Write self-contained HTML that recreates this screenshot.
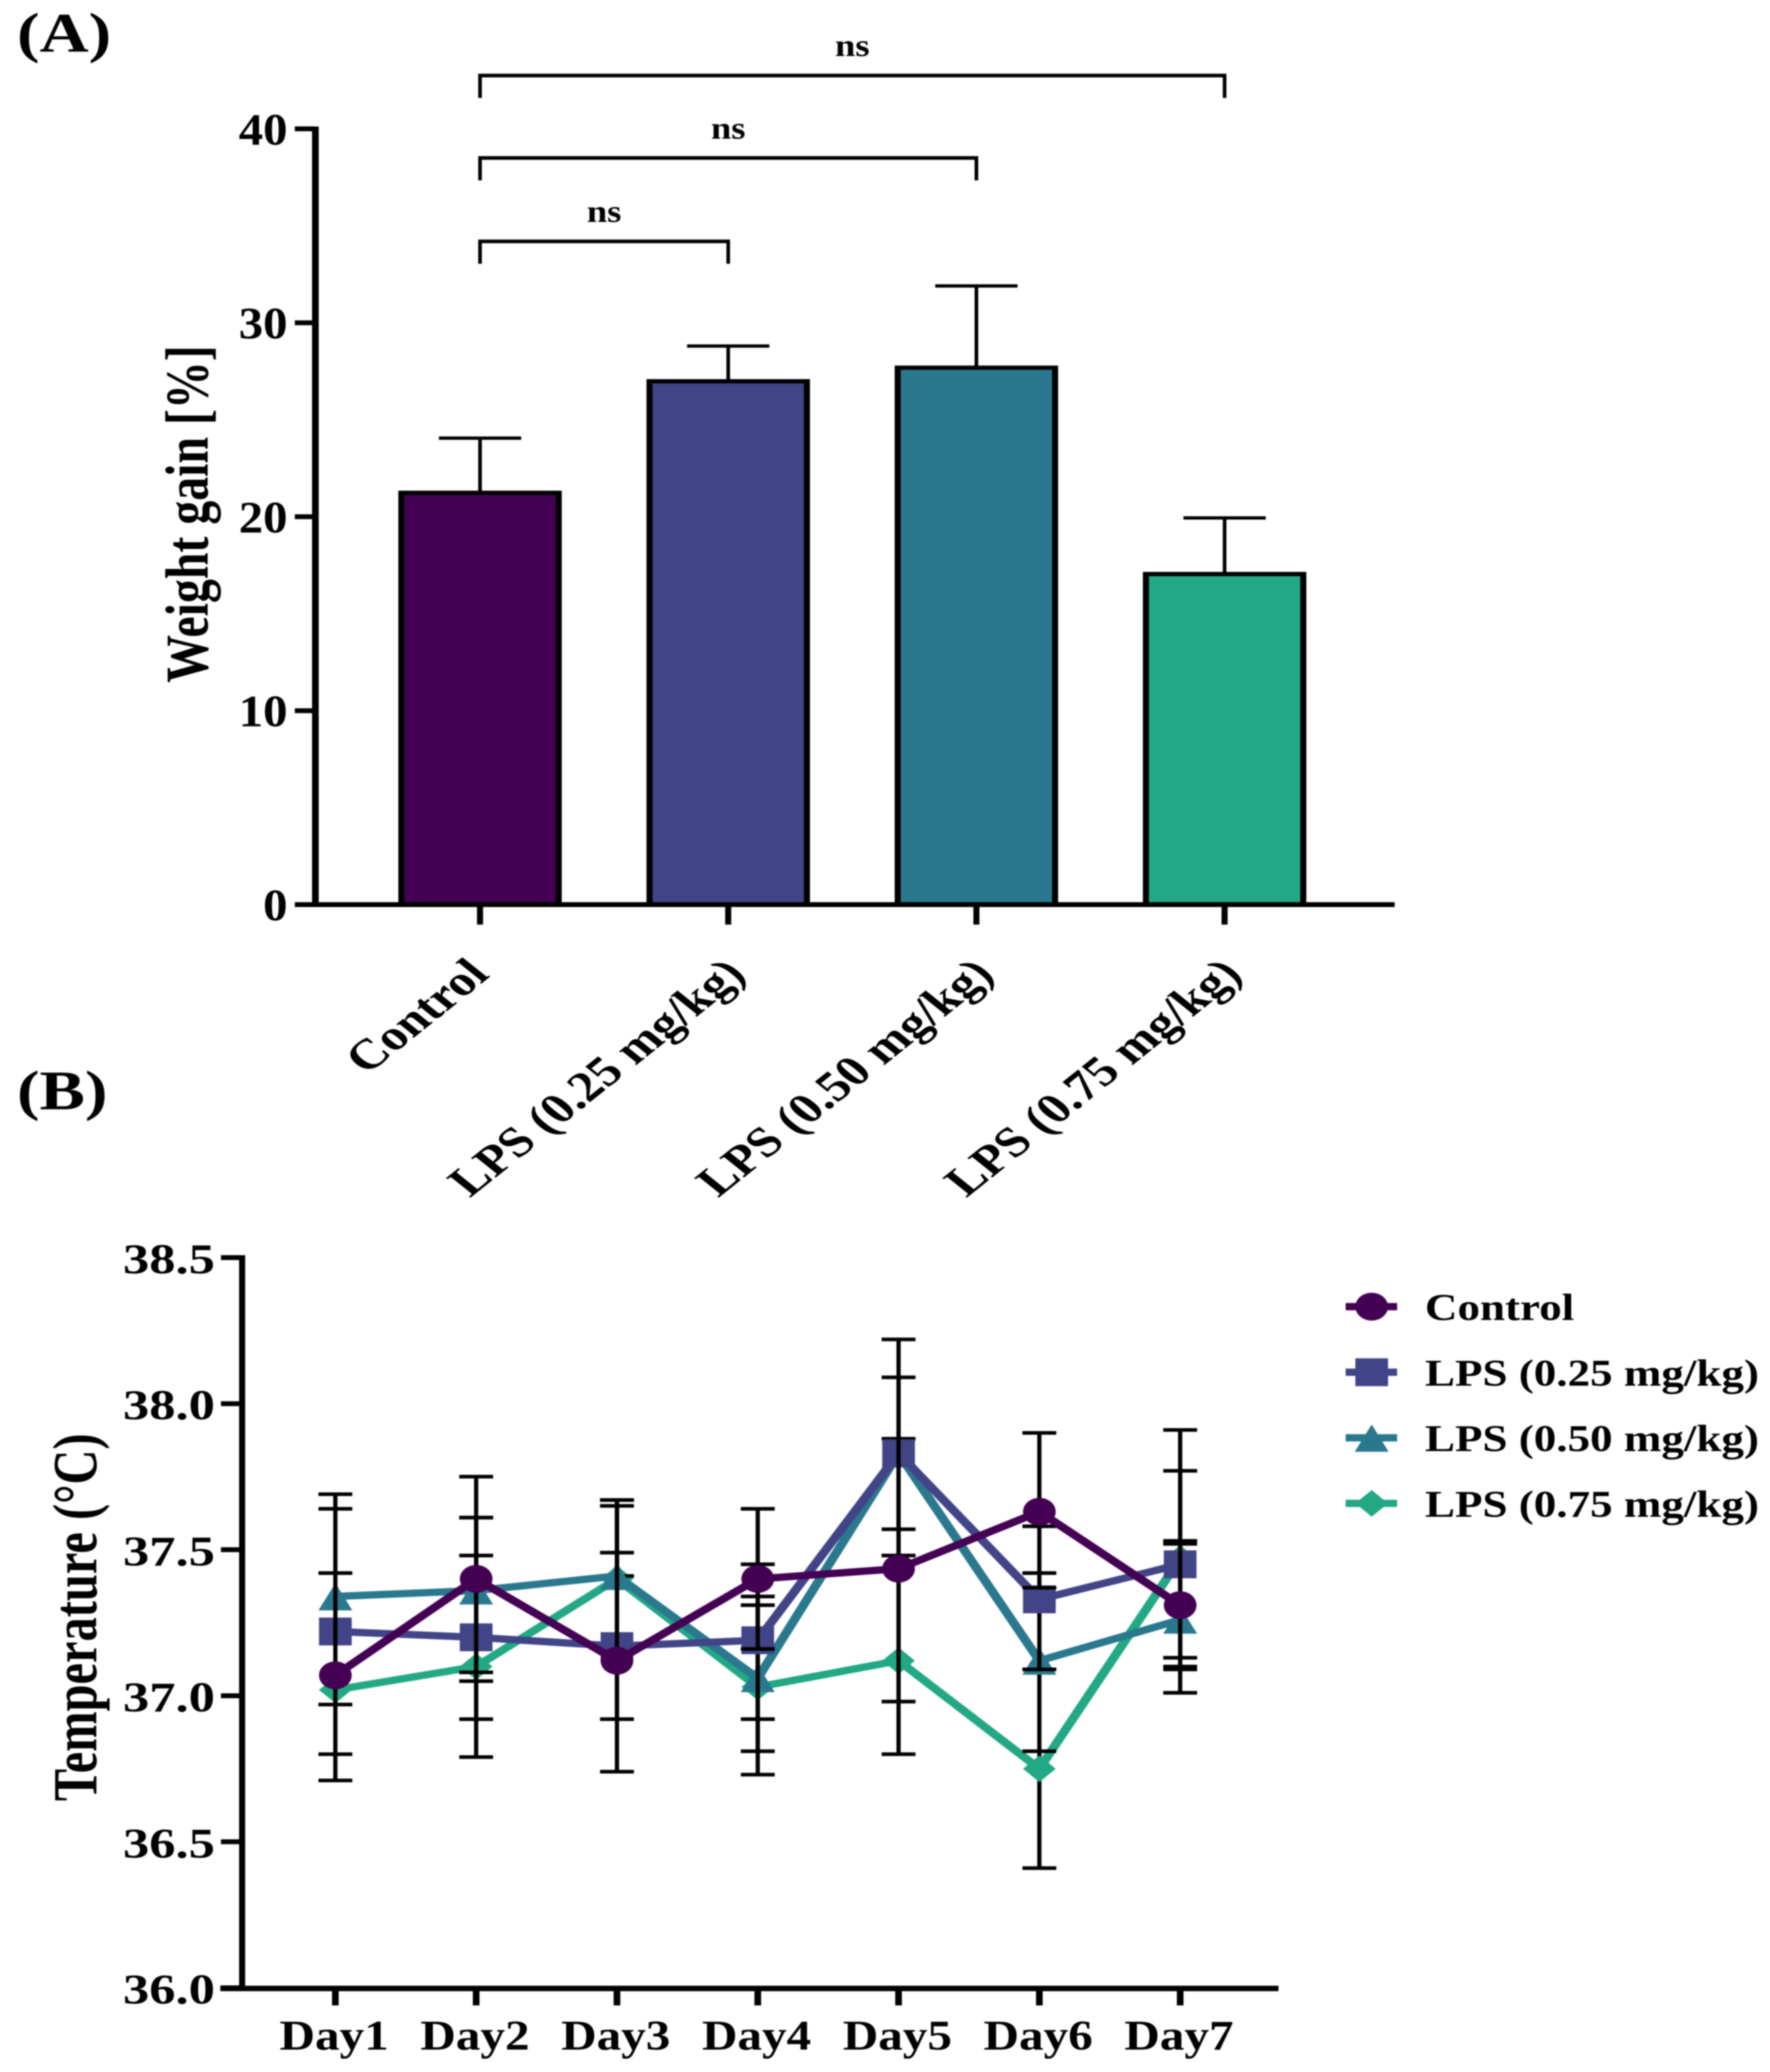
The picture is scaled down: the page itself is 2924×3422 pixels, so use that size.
<!DOCTYPE html>
<html lang="en">
<head>
<meta charset="utf-8">
<title>Weight gain and temperature charts</title>
<style>
html,body{margin:0;padding:0;background:#fff}
svg{display:block;filter:blur(1px)}
text{font-family:"Liberation Serif",serif;font-weight:bold;fill:#000}
</style>
</head>
<body>
<svg id="figure" xmlns="http://www.w3.org/2000/svg" width="2924" height="3422" viewBox="0 0 2924 3422">
  <rect x="0" y="0" width="2924" height="3422" fill="#fff"/>
  <text font-size="92" transform="translate(28,85) scale(1.22,1)">(A)</text>
  <text font-size="92" transform="translate(28,1832) scale(1.22,1)">(B)</text>
  <text font-size="79" text-anchor="middle" transform="translate(343,849) scale(1.28,1) rotate(-90)">Weight gain [%]</text>
  <text font-size="80" text-anchor="middle" transform="translate(159,2671) scale(1.3,1) rotate(-90)">Temperature (°C)</text>
  <g id="panel-a"></g>
  <g id="panel-b"></g>
  <g id="legend"></g>
</svg>
<script>
// ---- Panel A data ----
const barCategories = ["Control", "LPS (0.25 mg/kg)", "LPS (0.50 mg/kg)", "LPS (0.75 mg/kg)"];
const barValues = [21.25, 27.0, 27.7, 17.06];
const barErrors = [2.8, 1.8, 4.2, 2.88];
const barColors = ["#440154", "#414487", "#2a788e", "#22a884"];
const barTicks = [0, 10, 20, 30, 40];
const comparisonEnds = [1, 2, 3];
const comparisonLevels = [34.2, 38.5, 42.75];
const comparisonLabels = ["ns", "ns", "ns"];

// ---- Panel B data ----
const dayLabels = ["Day1", "Day2", "Day3", "Day4", "Day5", "Day6", "Day7"];
const tempTicks = ["36.0", "36.5", "37.0", "37.5", "38.0", "38.5"];
const seriesNames = ["Control", "LPS (0.25 mg/kg)", "LPS (0.50 mg/kg)", "LPS (0.75 mg/kg)"];
const seriesColors = ["#440154", "#414487", "#2a788e", "#22a884"];
const seriesMarkers = ["circle", "square", "triangle", "diamond"];

const controlMean = [37.07, 37.40, 37.12, 37.40, 37.435, 37.63, 37.31];
const controlHigh = [37.42, 37.75, 37.49, 37.64, 38.09, 37.90, 37.53];
const controlLow  = [36.71, 37.05, 36.74, 37.16, 36.80, 37.37, 37.10];

const lps25Mean = [37.22, 37.20, 37.17, 37.19, 37.83, 37.33, 37.45];
const lps25High = [37.64, 37.61, 37.65, 37.45, 38.22, 37.58, 37.91];
const lps25Low  = [36.80, 36.79, 36.92, 36.92, 37.48, 37.09, 37.01];

const lps50Mean = [37.34, 37.36, 37.41, 37.06, 37.83, 37.12, 37.26];
const lps50High = [37.69, 37.61, 37.67, 37.34, 37.88, 37.42, 37.52];
const lps50Low  = [36.97, 37.08, 37.41, 36.81, 37.57, 36.81, 37.13];

const lps75Mean = [37.02, 37.10, 37.40, 37.03, 37.12, 36.75, 37.47];
const lps75High = [37.42, 37.48, 37.67, 37.31, 37.48, 37.09, 37.77];
const lps75Low  = [36.71, 36.92, 37.41, 36.73, 36.98, 36.41, 37.09];

const seriesMeans = [controlMean, lps25Mean, lps50Mean, lps75Mean];
const seriesHighs = [controlHigh, lps25High, lps50High, lps75High];
const seriesLows = [controlLow, lps25Low, lps50Low, lps75Low];

// ---- Axis functions ----
const xA = i => 793 + i * 410;
const yA = v => 1494 - v * 32.03;
const xB = i => 554 + i * 232.6;
const yB = v => 3283 - (v - 36) * 482.4;
const STRETCH = 1.3;

const SVGNS = "http://www.w3.org/2000/svg";
function make(parent, tag, attrs) {
  const e = document.createElementNS(SVGNS, tag);
  for (const k in attrs) e.setAttribute(k, attrs[k]);
  parent.appendChild(e);
  return e;
}
function slug(s) {
  return s.toLowerCase().replace(/[^a-z0-9]+/g, "-").replace(/^-|-$/g, "");
}
function hLine(parent, x1, x2, y, w) {
  return make(parent, "line", { x1: x1, x2: x2, y1: y, y2: y, stroke: "#000", "stroke-width": w });
}
function vLine(parent, x, y1, y2, w) {
  return make(parent, "line", { x1: x, x2: x, y1: y1, y2: y2, stroke: "#000", "stroke-width": w });
}
function label(parent, str, x, y, size, anchor, sx, rot) {
  const t = make(parent, "text", {
    "font-size": size,
    "text-anchor": anchor,
    transform: "translate(" + x + "," + y + ") scale(" + sx + ",1)" + (rot ? " rotate(" + rot + ")" : "")
  });
  t.textContent = str;
  return t;
}
function drawMarker(parent, type, cx, cy, color) {
  let m;
  if (type === "circle") {
    m = make(parent, "ellipse", { cx: cx, cy: cy, rx: 27, ry: 23, fill: color });
  } else if (type === "square") {
    m = make(parent, "rect", { x: cx - 27, y: cy - 23, width: 54, height: 46, fill: color });
  } else if (type === "triangle") {
    m = make(parent, "polygon", { points: (cx) + "," + (cy - 22) + " " + (cx + 28) + "," + (cy + 23) + " " + (cx - 28) + "," + (cy + 23), fill: color });
  } else {
    m = make(parent, "polygon", { points: (cx) + "," + (cy - 22) + " " + (cx + 27) + "," + cy + " " + (cx) + "," + (cy + 22) + " " + (cx - 27) + "," + cy, fill: color });
  }
  return m;
}

// ---- Panel A ----
const pa = document.getElementById("panel-a");
barCategories.forEach(function (cat, i) {
  const cx = xA(i), top = yA(barValues[i]), errTop = yA(barValues[i] + barErrors[i]);
  const stem = vLine(pa, cx, errTop, top, 6);
  
  
  const cap = hLine(pa, cx - 68, cx + 68, errTop, 5.5);
  
  
  const outline = make(pa, "rect", { x: cx - 135, y: top - 3, width: 270, height: 1494 - top + 3, fill: "#000" });
  
  
  const bar = make(pa, "rect", { x: cx - 125, y: top + 4, width: 250, height: 1494 - top - 4, fill: barColors[i] });
  
  
});
const axisYA = vLine(pa, 521, 209, 1498, 11);


const axisXA = hLine(pa, 487, 2304, 1494, 8);


barTicks.forEach(function (v) {
  const tick = hLine(pa, 487, 520, yA(v), 8);
  
  
  const tl = label(pa, String(v), 475, yA(v) + 26, 74, "end", 1.09);
  
  
});
barCategories.forEach(function (cat, i) {
  const tick = vLine(pa, xA(i), 1494, 1527, 10);
  
  
  const endOffset = cat.length > 8 ? 32 : 18;
  const tl = label(pa, cat, xA(i) + endOffset, 1612, 70, "end", 1.25, -45);
  
  
});
comparisonEnds.forEach(function (endIdx, i) {
  const y = yA(comparisonLevels[i]);
  const path = make(pa, "path", {
    d: "M" + xA(0) + " " + (y + 37) + "V" + y + "H" + xA(endIdx) + "V" + (y + 37),
    fill: "none", stroke: "#000", "stroke-width": 6
  });
  
  
  const mid = (xA(0) + xA(endIdx)) / 2;
  const tl = label(pa, comparisonLabels[i], mid, y - 32, 52, "middle", 1.16);
  
  
});

// ---- Panel B ----
const pb = document.getElementById("panel-b");
const axisYB = vLine(pb, 400, 2073, 3287, 10);


const axisXB = hLine(pb, 364, 2112, 3284, 9);


tempTicks.forEach(function (t) {
  const v = parseFloat(t);
  const tick = hLine(pb, 365, 400, yB(v), 8);
  
  
  const tl = label(pb, t, 355, yB(v) + 26, 70, "end", 1.24);
  
  
});
dayLabels.forEach(function (d, i) {
  const tick = vLine(pb, xB(i), 3284, 3312, 11);
  
  
  const tl = label(pb, d, xB(i) - 2, 3385, 70, "middle", 1.16);
  
  
});
// Draw order: last series first, control on top
[3, 2, 1, 0].forEach(function (s) {
  const g = make(pb, "g", {});
  
  
  const color = seriesColors[s];
  dayLabels.forEach(function (d, i) {
    const cx = xB(i), yh = yB(seriesHighs[s][i]), yl = yB(seriesLows[s][i]);
    const stem = vLine(g, cx, yh, yl, 7);
    
    
    const capH = hLine(g, cx - 28, cx + 28, yh, 6);
    
    
    const capL = hLine(g, cx - 28, cx + 28, yl, 6);
    
    
  });
  const pts = seriesMeans[s].map(function (v, i) { return (xB(i) / STRETCH) + "," + yB(v); }).join(" ");
  const line = make(g, "polyline", { points: pts, fill: "none", stroke: color, "stroke-width": 12, "stroke-linejoin": "miter", transform: "scale(" + STRETCH + ",1)" });
  
  
  seriesMeans[s].forEach(function (v, i) {
    const m = drawMarker(g, seriesMarkers[s], xB(i), yB(v), color);
    
    
  });
});

// ---- Legend ----
const lg = document.getElementById("legend");
seriesNames.forEach(function (name, s) {
  const cy = 2158 + s * 108.3;
  const ll = make(lg, "line", { x1: 2223, x2: 2308, y1: cy, y2: cy, stroke: seriesColors[s], "stroke-width": 12 });
  
  
  const lm = drawMarker(lg, seriesMarkers[s], 2266, cy, seriesColors[s]);
  
  
  const lt = label(lg, name, 2354, cy + 22, 62, "start", 1.2);
  
  
});
</script>
</body>
</html>
